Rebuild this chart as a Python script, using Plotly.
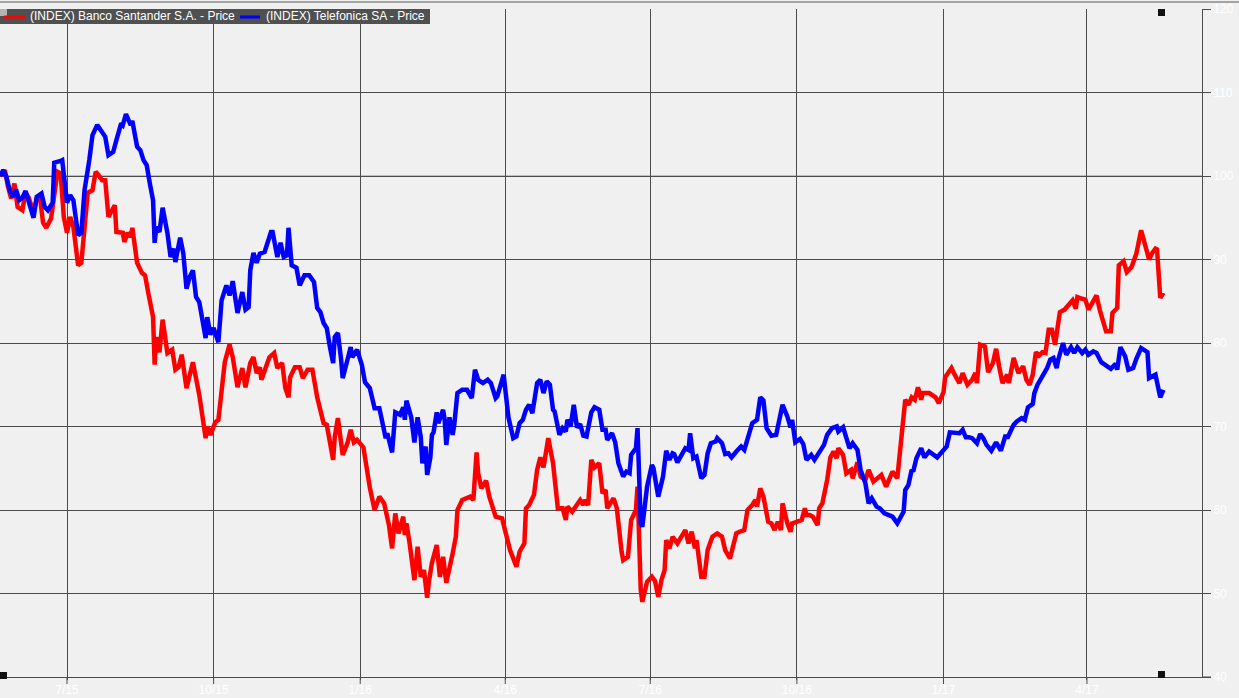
import plotly.graph_objects as go
from datetime import date, datetime, timedelta

# ---------------- data ----------------
BASE_DATE = "2015-07-01"          # day 0 of the day offsets below

santander_name = "(INDEX) Banco Santander S.A. - Price"
telefonica_name = "(INDEX) Telefonica SA - Price"

# days since 2015-07-01
santander_days = [-42,-39,-37,-35,-33,-31,-28,-26,-24,-21,-19,-17,-15,-13,-10,-9,-6,-4,-2,0,2,4,7,9,11,13,16,18,19,22,24,26,30,31,35,36,38,40,41,44,47,49,51,54,55,56,58,60,63,66,68,70,72,75,79,82,83,87,88,90,93,95,99,102,104,107,110,112,115,117,119,121,122,127,130,132,135,137,139,140,143,146,148,151,154,157,161,163,167,168,170,173,176,178,180,182,186,188,190,193,196,199,201,202,204,206,208,211,212,213,215,218,220,222,224,226,227,229,232,234,236,238,242,244,245,248,253,255,257,258,260,263,265,269,273,275,278,282,284,287,288,290,293,295,297,299,301,302,305,308,311,313,314,317,322,324,325,327,329,331,334,336,338,339,343,345,348,349,352,354,357,358,360,361,364,367,369,371,373,375,376,378,380,383,388,390,392,394,395,398,400,402,405,408,411,413,416,420,422,425,427,430,432,433,435,437,440,442,444,446,448,449,452,454,455,458,461,463,464,466,468,471,472,474,477,479,481,483,484,487,489,492,493,496,498,501,503,506,511,514,518,521,523,525,526,528,530,532,534,536,537,541,545,547,550,551,555,557,560,562,565,568,570,571,573,576,578,581,583,585,587,590,591,594,597,600,602,604,606,608,610,612,614,616,618,620,623,626,628,631,633,634,637,639,641,644,646,648,651,652,655,656,659,660,663,665,668,670,671,674,676,679,681,683,684,686,688]
santander_price = [100.0,100.7,98.7,97.3,99.1,96.3,95.9,98.0,97.4,95.6,97.3,97.5,94.4,93.8,94.9,96.3,100.5,100.3,95.1,93.2,95.1,93.9,89.3,89.6,94.4,98.0,98.3,100.5,100.3,99.5,99.5,95.1,96.5,93.3,93.2,92.1,93.2,92.7,93.8,89.6,88.4,88.1,86.0,83.1,77.4,80.7,78.9,82.8,78.8,79.2,76.8,77.1,78.6,74.6,77.7,75.2,73.8,68.6,70.0,69.0,70.5,70.8,77.7,79.8,78.3,74.7,77.0,74.7,77.6,78.3,76.4,77.1,75.6,78.3,78.8,77.0,77.6,74.6,73.5,75.9,77.1,77.1,75.8,76.8,76.8,73.5,70.4,70.2,66.0,68.7,71.0,66.6,68.0,69.6,68.1,68.4,67.5,65.1,62.7,60.0,61.6,60.8,58.8,58.2,55.4,59.6,57.2,59.2,57.0,58.4,56.0,51.6,55.6,52.0,52.8,49.5,51.3,53.7,55.8,52.0,54.4,51.3,54.8,56.8,60.0,61.2,61.6,61.2,66.9,64.4,62.6,63.5,61.6,59.2,59.0,57.6,55.2,53.2,55.0,56.0,60.2,60.6,61.8,64.8,66.3,65.1,67.8,68.6,65.6,60.2,60.2,58.8,60.4,59.8,61.2,60.6,61.2,60.6,66.0,65.1,65.6,62.0,62.4,60.2,61.4,60.2,55.0,54.0,54.4,58.8,60.0,62.8,50.5,49.0,51.4,52.0,51.5,49.6,51.6,52.8,56.4,55.4,56.8,56.0,57.6,56.0,57.4,55.4,56.4,52.0,52.0,55.2,56.8,57.2,56.8,55.2,54.2,57.2,57.4,57.6,60.0,60.6,61.2,60.4,62.6,61.6,58.6,58.4,57.6,58.6,57.6,60.8,58.4,57.4,58.4,58.6,58.8,60.2,59.4,59.4,59.2,58.2,60.2,60.8,63.6,66.3,67.0,66.2,67.4,66.6,64.4,64.8,63.8,65.7,64.0,63.6,64.8,63.4,64.2,62.8,64.6,63.8,68.0,72.3,73.2,72.6,73.5,73.2,74.7,73.2,74.0,74.0,73.5,72.8,74.1,75.9,77.0,76.2,75.2,76.4,75.0,75.6,76.4,75.2,79.8,79.6,76.5,77.6,79.3,77.1,75.2,76.2,75.2,78.2,76.4,77.2,75.6,75.0,76.2,78.9,78.5,78.9,78.8,81.6,81.6,79.8,83.7,84.0,84.4,85.1,84.1,85.5,85.3,85.2,84.0,85.0,85.7,84.0,81.9,81.4,81.4,83.6,84.2,89.3,89.8,88.5,89.1,90.1,90.7,93.5,92.1,90.0,90.8,91.3,91.2,85.4,86.0]

telefonica_days = [-42,-40,-38,-36,-34,-32,-30,-28,-26,-24,-21,-19,-16,-14,-12,-9,-8,-4,-3,0,2,4,7,9,11,14,16,19,22,24,26,29,31,34,35,37,40,41,44,46,48,50,52,54,55,56,58,60,63,65,67,68,71,73,75,77,79,81,83,85,87,88,90,92,95,97,100,102,104,107,110,112,114,115,117,119,121,124,126,128,129,132,134,136,138,139,141,144,146,149,152,155,157,159,161,163,165,167,168,170,172,173,176,178,179,182,185,187,190,193,196,200,201,204,206,209,211,212,213,216,218,220,222,223,225,226,228,229,230,232,233,236,237,238,240,242,243,245,248,251,254,256,258,261,264,266,269,270,274,275,277,280,282,284,286,288,290,292,295,297,299,301,303,305,306,309,311,313,314,316,318,320,322,324,326,329,331,334,336,338,339,342,344,346,349,351,353,354,357,358,360,361,364,367,368,371,374,376,378,380,381,383,386,388,390,391,393,395,398,400,402,404,407,408,411,413,415,417,420,423,425,427,430,433,435,437,439,442,445,447,449,452,454,455,457,460,462,464,467,469,472,475,477,480,483,484,487,489,491,493,496,498,501,503,505,508,510,513,515,518,521,525,526,528,530,531,533,536,538,541,546,550,552,554,557,560,562,564,566,568,571,573,575,577,580,583,586,589,590,594,596,599,601,603,606,607,609,612,615,617,619,621,622,625,627,630,632,634,637,639,641,644,646,649,652,655,658,659,661,664,666,669,671,674,678,679,683,686,688]
telefonica_price = [100.0,100.7,99.9,98.3,97.5,98.4,97.1,97.4,98.2,96.8,95.0,97.5,97.9,96.3,95.9,96.8,101.6,101.8,101.9,96.8,97.7,97.1,92.9,93.2,98.3,101.9,104.9,106.1,105.1,104.7,102.5,102.9,104.3,106.3,106.1,107.4,106.1,106.6,103.5,103.1,101.9,101.3,99.1,97.1,92.0,93.9,93.3,96.2,93.2,90.3,91.3,89.7,92.6,90.7,86.5,87.9,88.7,85.5,84.9,82.4,80.6,83.1,81.0,81.8,80.1,85.1,86.9,85.7,87.4,83.6,86.1,84.0,84.3,88.7,90.8,89.6,90.7,90.9,92.0,93.3,93.3,90.3,92.0,90.3,90.5,93.8,89.3,89.0,86.9,88.1,88.1,87.3,84.2,83.7,82.4,81.8,79.5,77.6,80.7,81.2,78.0,75.8,78.0,79.5,78.3,79.2,77.4,75.3,74.6,72.2,72.2,68.6,69.2,66.9,71.7,71.4,72.3,70.8,73.1,71.1,68.1,71.1,68.7,65.6,67.6,64.2,66.3,69.0,69.3,71.7,70.4,72.0,70.8,67.8,71.1,69.0,70.2,74.0,74.4,74.4,73.4,76.8,75.6,75.2,75.6,75.2,73.4,73.6,76.2,74.4,71.1,68.6,68.8,70.4,70.8,72.0,72.6,71.6,75.2,75.6,74.0,75.4,75.0,72.0,71.8,69.0,69.8,69.4,70.8,70.0,72.6,69.9,70.3,68.9,68.8,71.7,72.3,72.0,69.6,69.6,68.4,69.2,68.1,65.6,64.0,64.6,64.4,66.6,67.4,69.8,58.4,58.0,62.8,65.4,65.0,61.6,64.0,67.1,66.0,66.8,66.7,65.7,66.6,67.4,67.2,69.2,66.2,66.4,63.8,64.2,66.8,68.0,68.2,68.6,68.0,66.7,66.8,66.3,67.0,67.6,67.2,68.4,70.4,70.8,73.5,73.1,69.8,68.9,69.0,70.8,72.6,71.2,69.9,70.8,68.1,68.5,67.9,66.0,66.6,66.0,67.0,67.8,69.0,69.8,70.0,69.4,69.9,68.4,67.4,68.0,67.2,64.8,63.2,60.8,61.4,60.4,60.2,59.6,59.4,59.2,58.4,59.8,62.4,63.0,64.8,64.6,66.2,67.4,66.3,67.0,66.3,67.2,67.6,69.3,69.3,69.2,69.6,68.7,68.7,68.6,68.0,69.1,68.6,67.8,67.1,68.1,67.1,69.0,68.6,70.2,70.6,71.0,70.8,72.3,72.7,74.0,75.0,75.9,77.0,78.0,78.2,77.0,78.0,80.0,78.6,79.5,78.8,79.5,78.8,79.2,78.6,79.0,78.8,77.7,77.3,76.9,77.5,76.8,79.5,78.4,76.8,77.0,78.1,79.4,78.9,75.8,76.2,73.5,74.4]

tick_dates = ["2015-07-01","2015-10-01","2016-01-01","2016-04-01","2016-07-01","2016-10-01","2017-01-01","2017-04-01"]
tick_labels = ["7/15","10/15","1/16","4/16","7/16","10/16","1/17","4/17"]
y_ticks = [40, 50, 60, 70, 80, 90, 100, 110, 120]

# ---------------- helpers ----------------
base = datetime.strptime(BASE_DATE, "%Y-%m-%d")
def to_dates(days):
    return [(base + timedelta(days=d)).strftime("%Y-%m-%d") for d in days]

W, H = 1239, 698
ML, MR, MT, MB = 0, 37, 9, 21
PW, PH = W - ML - MR, H - MT - MB
def px(x):   # pixel x -> paper
    return (x - ML) / PW
def py(y):   # pixel y -> paper
    return (H - MB - y) / PH

FONT = "Arial, 'Liberation Sans', sans-serif"
GRID = "#4b4b4b"
BG = "#f0f0f0"

fig = go.Figure()
fig.add_trace(go.Scatter(x=to_dates(santander_days), y=santander_price, mode="lines",
                         name=santander_name, line=dict(color="#ff0000", width=4.5),
                         showlegend=False))
fig.add_trace(go.Scatter(x=to_dates(telefonica_days), y=telefonica_price, mode="lines",
                         name=telefonica_name, line=dict(color="#0000ff", width=4.5),
                         showlegend=False))

x_start = (base + timedelta(days=-42.04)).strftime("%Y-%m-%d %H:%M")
x_end = (base + timedelta(days=712.2)).strftime("%Y-%m-%d %H:%M")

shapes = []
# lighter 100 line
shapes.append(dict(type="line", xref="paper", yref="y", x0=0, x1=1, y0=100, y1=100,
                   line=dict(color="#8c8c8c", width=1), layer="between"))
# top border line
shapes.append(dict(type="line", xref="paper", yref="paper", x0=0, x1=px(W), y0=py(2), y1=py(2),
                   line=dict(color="#5a5a5a", width=1), layer="above"))
# bottom axis extension
shapes.append(dict(type="line", xref="paper", yref="paper", x0=1, x1=px(1211), y0=0, y1=0,
                   line=dict(color=GRID, width=1), layer="above"))
# longer x tick marks below the axis
for td in tick_dates:
    shapes.append(dict(type="line", xref="x", yref="paper", x0=td, x1=td, y0=0, y1=py(684),
                       line=dict(color=GRID, width=1), layer="above"))
# legend box
shapes.append(dict(type="rect", xref="paper", yref="paper", x0=px(0), x1=px(430), y0=py(24), y1=py(9),
                   fillcolor="#505050", line=dict(width=0), layer="above"))
shapes.append(dict(type="rect", xref="paper", yref="paper", x0=px(0), x1=px(7), y0=py(16), y1=py(9),
                   fillcolor="#b4b4b4", line=dict(width=0), layer="above"))
shapes.append(dict(type="line", xref="paper", yref="paper", x0=px(4), x1=px(25), y0=py(17), y1=py(17),
                   line=dict(color="#ff0000", width=3), layer="above"))
shapes.append(dict(type="line", xref="paper", yref="paper", x0=px(240), x1=px(260), y0=py(17), y1=py(17),
                   line=dict(color="#0000ff", width=3), layer="above"))
# small black handles
for (x0, y0) in [(1158, 9), (1158, 671), (0, 672)]:
    shapes.append(dict(type="rect", xref="paper", yref="paper", x0=px(x0), x1=px(x0 + 7),
                       y0=py(y0 + 7), y1=py(y0), fillcolor="#111111", line=dict(width=0), layer="above"))

annotations = [
    dict(text=santander_name, xref="paper", yref="paper", x=px(28), y=py(16.5),
         xanchor="left", yanchor="middle", showarrow=False,
         font=dict(family=FONT, size=12, color="#ffffff")),
    dict(text=telefonica_name, xref="paper", yref="paper", x=px(264), y=py(16.5),
         xanchor="left", yanchor="middle", showarrow=False,
         font=dict(family=FONT, size=12, color="#ffffff")),
]

fig.update_layout(
    width=W, height=H, autosize=False,
    margin=dict(l=ML, r=MR, t=MT, b=MB, pad=0, autoexpand=False),
    paper_bgcolor=BG, plot_bgcolor=BG,
    font=dict(family=FONT, size=12, color="#ffffff"),
    showlegend=False,
    shapes=shapes, annotations=annotations,
    xaxis=dict(type="date", range=[x_start, x_end], tickvals=tick_dates, ticktext=tick_labels,
               showgrid=True, gridcolor=GRID, gridwidth=1, ticks="outside", ticklen=2,
               tickcolor=GRID, tickwidth=1, tickfont=dict(color="#ffffff", size=12, family=FONT),
               showline=True, linecolor=GRID, linewidth=1, zeroline=False, automargin=False),
    yaxis=dict(side="right", range=[40, 120], tickvals=y_ticks, showgrid=True, gridcolor=GRID,
               gridwidth=1, ticks="outside", ticklen=8, tickcolor=GRID, tickwidth=1,
               tickfont=dict(color="#ffffff", size=12, family=FONT),
               showline=True, linecolor=GRID, linewidth=1, zeroline=False, automargin=False),
)

fig.write_html("out.html", config={"displayModeBar": False},
               post_script="document.body.style.margin='0';document.body.style.background='#f0f0f0';")
